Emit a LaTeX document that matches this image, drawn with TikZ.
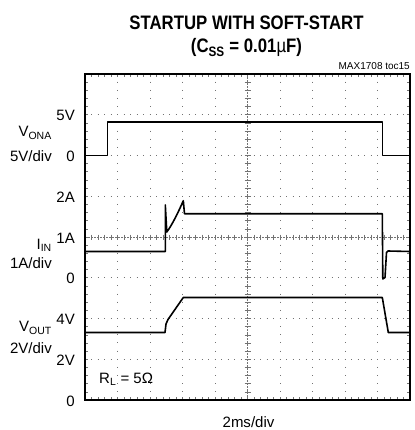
\documentclass[tikz,border=0pt]{standalone}
\usepackage{fontspec}
\setmainfont{Liberation Sans}
\newfontfamily\titlefont[FakeStretch=0.86]{Liberation Sans}
\begin{document}
\begin{tikzpicture}[x=1pt,y=-1pt,font=\fontsize{15}{15}\selectfont,
    gridh/.style={black!55,line width=1pt,dash pattern=on 1pt off 5.5pt,dash phase=0.5pt},
    gridv/.style={black!55,line width=1pt,dash pattern=on 1pt off 7.15pt,dash phase=0.5pt},
    minortick/.style={black!55,line width=0.6pt},
    trace/.style={line width=1.6pt,line join=round},
    lbl/.style={anchor=base east,inner sep=0pt}]
  \useasboundingbox (0,0) rectangle (414,430);
  % grid
  \foreach \j in {1,...,7}
    \draw[gridh] (85,74+40.75*\j) -- (410,74+40.75*\j);
  \foreach \i in {1,...,9}
    \draw[gridv] (85+32.5*\i,74) -- (85+32.5*\i,400);
  \draw[black!55,line width=0.6pt,dash pattern=on 2pt off 1pt] (85,237) -- (410,237);
  \draw[black!55,line width=0.6pt,dash pattern=on 2pt off 1pt] (247.5,74) -- (247.5,400);
  \foreach \k in {1,...,49} {
    \draw[minortick] (85+6.5*\k,234.5) -- ++(0,5);
    \draw[minortick] (85+6.5*\k,74) -- ++(0,3);
    \draw[minortick] (85+6.5*\k,400) -- ++(0,-3);
  }
  \foreach \k in {1,...,39} {
    \draw[minortick] (244.5,74+8.15*\k) -- ++(6,0);
    \draw[minortick] (85,74+8.15*\k) -- ++(3,0);
    \draw[minortick] (410,74+8.15*\k) -- ++(-3,0);
  }
  \draw[line width=2.5pt] (85,74) rectangle (410,400);
  % traces
  \draw[trace] (85,155.5) -- (107.3,155.5) -- (107.3,122) -- (382.3,122)
    -- (382.3,155.5) -- (410,155.5);
  \draw[trace] (85,251.5) -- (165.3,251.5) -- (165.3,205) -- (166.8,232)
    .. controls (172,225) and (178,213) .. (183.3,200.7) -- (184.5,213.7)
    -- (382.3,213.7) -- (382.8,279) -- (385,277.5) -- (386.5,252.5)
    -- (388,251) -- (410,251.5);
  \draw[trace] (85,332.5) -- (165,332.5) -- (166,324) -- (168,319.5)
    -- (183.3,297.5) -- (382.3,297.5) -- (388.3,332.5) -- (410,332.5);
  % title
  \node[anchor=base,inner sep=0pt,font=\fontsize{19.5}{20}\selectfont\titlefont\bfseries]
    (title) at (246.5,30) {STARTUP WITH SOFT-START};
  \node[anchor=base,inner sep=0pt,font=\fontsize{19.5}{20}\selectfont\titlefont\bfseries]
    (subtitle) at (246.5,53) {(C\textsubscript{SS} = 0.01{\mdseries\textmu}F)};
  \node[lbl,font=\fontsize{10}{10}\selectfont] (tag) at (410,70) {MAX1708 toc15};
  % axis labels
  \node[lbl] (v5) at (75,120.75) {5V};
  \node[lbl] (v0) at (75,161.5) {0};
  \node[lbl] (a2) at (75,202.25) {2A};
  \node[lbl] (a1) at (75,243) {1A};
  \node[lbl] (a0) at (75,283.75) {0};
  \node[lbl] (v4) at (75,324.5) {4V};
  \node[lbl] (v2) at (75,365.25) {2V};
  \node[lbl] (vb) at (75,406) {0};
  \node[lbl] (vona) at (52,137) {V\textsubscript{ONA}};
  \node[lbl] (vonadiv) at (52,161.5) {5V/div};
  \node[lbl] (iin) at (52,249.3) {I\textsubscript{IN}};
  \node[lbl] (iindiv) at (52,268.3) {1A/div};
  \node[lbl] (vout) at (52,331.7) {V\textsubscript{OUT}};
  \node[lbl] (voutdiv) at (52,353) {2V/div};
  \node[anchor=base west,inner sep=0pt] (rl) at (99,383) {R\textsubscript{L} = 5Ω};
  \node[anchor=base,inner sep=0pt] (time) at (248.5,427) {2ms/div};
\end{tikzpicture}
\end{document}
